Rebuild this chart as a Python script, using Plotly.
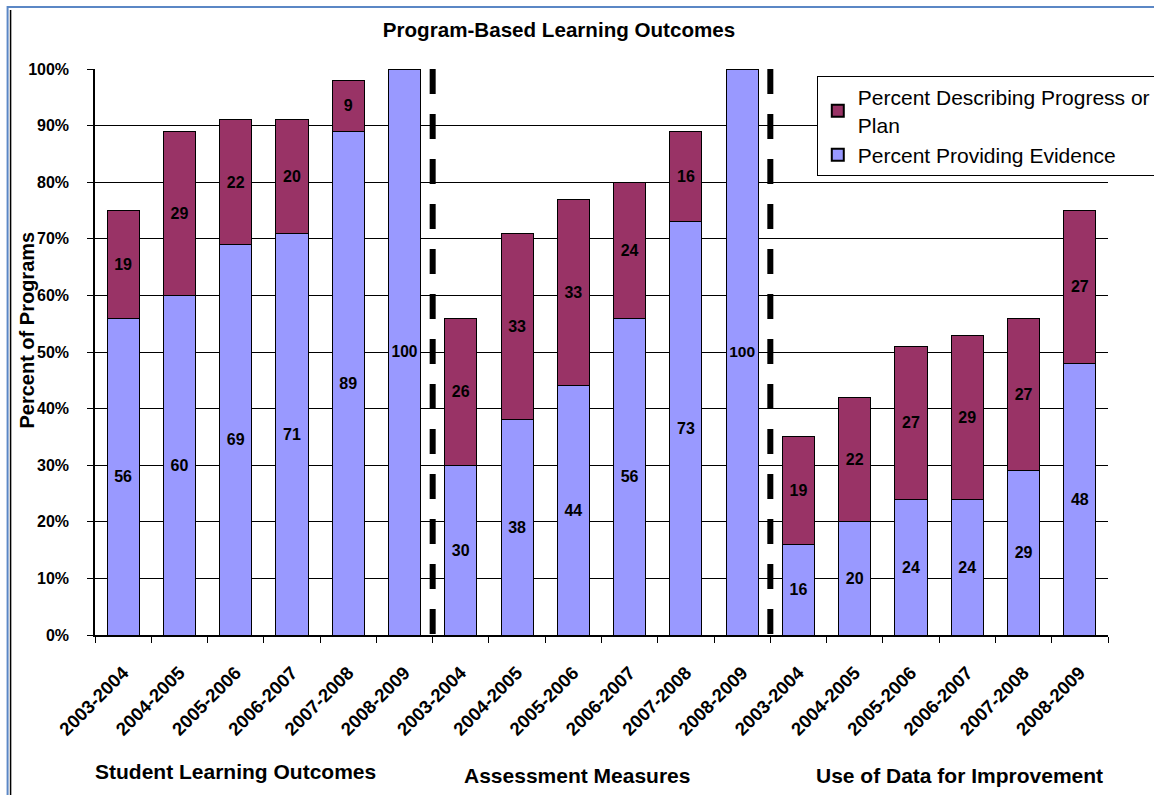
import plotly.graph_objects as go

# ---- data ----
years = ["2003-2004", "2004-2005", "2005-2006", "2006-2007", "2007-2008", "2008-2009"]
groups = ["Student Learning Outcomes", "Assessment Measures", "Use of Data for Improvement"]

evidence_slo = [56, 60, 69, 71, 89, 100]
progress_slo = [19, 29, 22, 20, 9, 0]
evidence_am = [30, 38, 44, 56, 73, 100]
progress_am = [26, 33, 33, 24, 16, 0]
evidence_ud = [16, 20, 24, 24, 29, 48]
progress_ud = [19, 22, 27, 29, 27, 27]

y_ticks = list(range(0, 101, 10))
y_tick_labels = [f"{v}%" for v in y_ticks]

evidence = evidence_slo + evidence_am + evidence_ud
progress = progress_slo + progress_am + progress_ud
tick_labels = years * len(groups)
xs = list(range(len(tick_labels)))

PURPLE = "#993366"
BLUE = "#9999FF"
FONT = "Liberation Sans, Arial, sans-serif"

# plot area geometry (pixels)
W, H = 1154, 795
L, R, T, B = 94.5, 1108.5, 69, 635


def px_x(px):
    return (px - L) / (R - L)


def px_y(py):
    return (B - py) / (B - T)


fig = go.Figure()
fig.add_trace(go.Bar(
    x=xs, y=evidence, name="Percent Providing Evidence",
    marker=dict(color=BLUE, line=dict(color="black", width=1)),
    text=[str(v) if v else "" for v in evidence],
    textposition="inside", insidetextanchor="middle", textangle=0,
    textfont=dict(family=FONT, size=16, color="black", weight="bold"),
    width=0.57,
))
fig.add_trace(go.Bar(
    x=xs, y=progress, name="Percent Describing Progress or<br>Plan",
    marker=dict(color=PURPLE, line=dict(color="black", width=1)),
    text=[str(v) if v else "" for v in progress],
    textposition="inside", insidetextanchor="middle", textangle=0,
    textfont=dict(family=FONT, size=16, color="black", weight="bold"),
    width=0.57,
))

shapes = []
# group separators (dashed)
n = len(years)
for g in range(1, len(groups)):
    sep = g * n - 0.5
    shapes.append(dict(type="line", xref="x", yref="paper", x0=sep, x1=sep,
                       y0=1.0, y1=px_y(646), line=dict(color="black", width=6, dash="25px,20px")))
# outer frame
shapes.append(dict(type="rect", xref="paper", yref="paper",
                   x0=px_x(7), x1=px_x(1170), y0=px_y(810), y1=px_y(7),
                   line=dict(color="#5B87C5", width=2), layer="above"))
shapes.append(dict(type="line", xref="paper", yref="paper",
                   x0=px_x(10), x1=px_x(10), y0=px_y(810), y1=px_y(10),
                   line=dict(color="black", width=1.5)))

annotations = []
group_label_px = [(235, 771), (577, 775), (960, 775)]
for name, (gx, gy) in zip(groups, group_label_px):
    annotations.append(dict(text=name, xref="paper", yref="paper", x=px_x(gx), y=px_y(gy),
                            showarrow=False, xanchor="center", yanchor="middle",
                            font=dict(family=FONT, size=21, color="black", weight="bold")))
annotations.append(dict(text="Percent of Programs", xref="paper", yref="paper",
                        x=px_x(26), y=px_y(330), textangle=-90, showarrow=False,
                        xanchor="center", yanchor="middle",
                        font=dict(family=FONT, size=20, color="black", weight="bold")))

fig.update_layout(
    width=W, height=H,
    margin=dict(l=L, r=W - R, t=T, b=H - B, autoexpand=False),
    paper_bgcolor="white", plot_bgcolor="white",
    barmode="stack",
    title=dict(text="Program-Based Learning Outcomes", x=559 / W, y=1 - 30 / H,
               xref="container", yref="container", xanchor="center", yanchor="middle",
               font=dict(family=FONT, size=20.6, color="black", weight="bold")),
    showlegend=True,
    legend=dict(x=px_x(817), y=px_y(76), xanchor="left", yanchor="top",
                traceorder="reversed", bgcolor="white", bordercolor="black", borderwidth=1,
                font=dict(family=FONT, size=21, color="black"),
                itemsizing="constant", tracegroupgap=0),
    shapes=shapes,
    annotations=annotations,
)
fig.update_xaxes(
    range=[-0.5, len(xs) - 0.5], tickmode="array", tickvals=xs, ticktext=tick_labels,
    tickangle=-45, ticks="", showgrid=False, zeroline=False,
    showline=True, linecolor="black", linewidth=1.5,
    ticklabelstandoff=18,
    tickfont=dict(family=FONT, size=18.5, color="black", weight="bold"),
    minor=dict(tickmode="array", tickvals=[i - 0.5 for i in range(len(xs) + 1)],
               ticks="outside", ticklen=6, tickcolor="black", tickwidth=1, showgrid=False),
)
fig.update_yaxes(
    range=[0, 100], tickmode="array", tickvals=y_ticks, ticktext=y_tick_labels,
    ticks="outside", ticklen=6, tickcolor="black",
    showgrid=True, gridcolor="black", gridwidth=1, zeroline=False,
    showline=True, linecolor="black", linewidth=1.5,
    ticklabelstandoff=15,
    tickfont=dict(family=FONT, size=16, color="black", weight="bold"),
)

fig.write_html("out.html")
